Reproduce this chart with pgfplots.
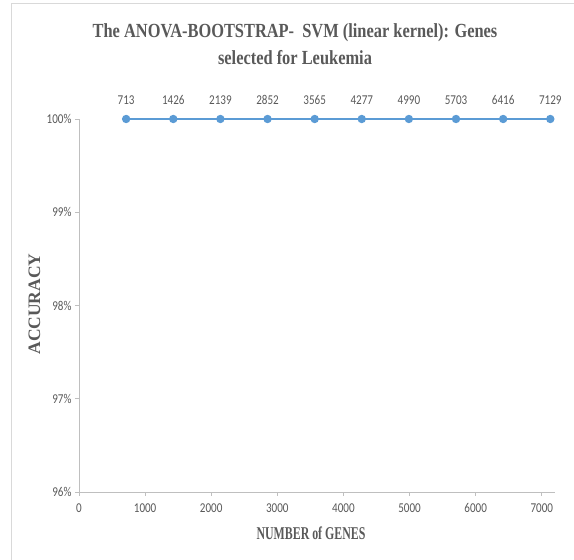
\documentclass[border=0pt]{standalone}
\usepackage{pgfplots}
\pgfplotsset{compat=1.18}
\usepackage{fontspec}
\setmainfont{Liberation Serif}
\newfontfamily\tickfont{Carlito}[FakeStretch=0.82]
\newfontfamily\titlefont{Liberation Serif}[FakeStretch=0.82]
\newfontfamily\xlabfont{Liberation Serif}[FakeStretch=0.66]
\definecolor{lblue}{HTML}{5B9BD5}
\definecolor{axgray}{HTML}{BFBFBF}
\definecolor{txtgray}{HTML}{595959}
\definecolor{framegray}{HTML}{D9D9D9}
\begin{document}
\begin{tikzpicture}[x=1pt,y=1pt]
\useasboundingbox (0,0) rectangle (574,560);
\draw[framegray, line width=0.8pt] (11,0) -- (11,557) -- (574,557);
\node[font=\titlefont\bfseries\fontsize{20}{27}\selectfont, text=txtgray, align=center] at (295,516) {The ANOVA-BOOTSTRAP-\ \ SVM (linear kernel): Genes\\selected for Leukemia};
\begin{axis}[
  at={(79pt,68pt)}, anchor=south west, scale only axis,
  width=476pt, height=373pt,
  xmin=0, xmax=7200, ymin=96, ymax=100,
  axis x line*=bottom, axis y line*=left,
  axis line style={axgray, line width=0.8pt},
  tick style={axgray, line width=0.8pt},
  major tick length=4pt, tick align=outside,
  xtick={0,1000,...,7000}, ytick={96,97,98,99,100},
  yticklabel={\pgfmathprintnumber[fixed,precision=0]{\tick}\%},
  /pgf/number format/1000 sep={},
  /pgf/number format/assume math mode=true,
  ticklabel style={font=\tickfont\fontsize{13.5}{15}\selectfont, text=txtgray},
  xticklabel style={yshift=-4pt},
  clip=false,
  nodes near coords={\pgfmathprintnumber[fixed,precision=0,1000 sep={}]{\pgfplotspointmeta}},
  point meta=x,
  every node near coord/.style={anchor=base, yshift=14pt, inner sep=0pt, font=\tickfont\fontsize{13.5}{15}\selectfont, text=txtgray},
]
\addplot[color=lblue, line width=1.5pt, mark=*, mark size=3.4pt, mark options={fill=lblue, draw=lblue}] coordinates {
(713,100) (1426,100) (2139,100) (2852,100) (3565,100) (4277,100) (4990,100) (5703,100) (6416,100) (7129,100)
};
\end{axis}
\node[font=\xlabfont\bfseries\fontsize{18}{20}\selectfont, text=txtgray, anchor=base] at (311,20) {NUMBER of GENES};
\node[font=\bfseries\fontsize{17.5}{20}\selectfont, text=txtgray, rotate=90] at (34.5,256) {ACCURACY};
\end{tikzpicture}
\end{document}
